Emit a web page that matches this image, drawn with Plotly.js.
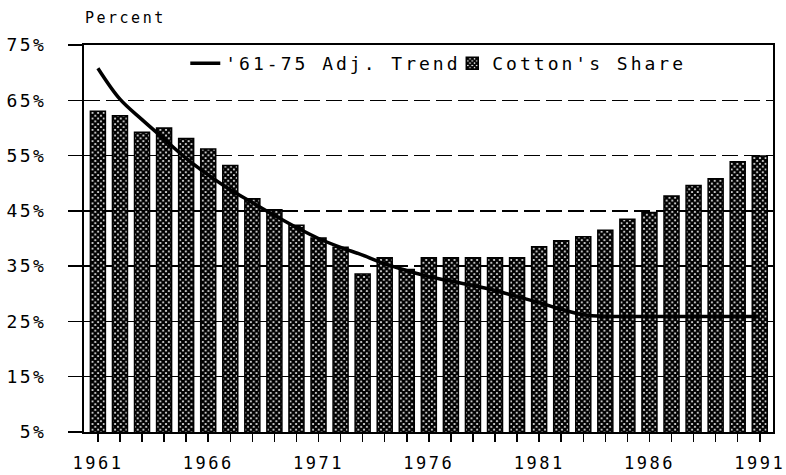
<!DOCTYPE html>
<html><head><meta charset="utf-8">
<script src="https://cdn.plot.ly/plotly-3.0.1.min.js"></script>
<style>
html,body{margin:0;padding:0;background:#fff;}
#chart{width:786px;height:475px;}
.main-svg text{letter-spacing:2.5px;}
.main-svg text.legendtext{letter-spacing:3px;}
</style></head><body><div id="chart"></div>
<script>
const years = [1961,1962,1963,1964,1965,1966,1967,1968,1969,1970,1971,1972,1973,1974,1975,1976,1977,1978,1979,1980,1981,1982,1983,1984,1985,1986,1987,1988,1989,1990,1991];
const cottonShare = [63.0,62.2,59.2,60.0,58.1,56.2,53.2,47.2,45.2,42.4,40.1,38.4,33.6,36.5,34.4,36.5,36.5,36.5,36.5,36.5,38.5,39.6,40.3,41.5,43.5,44.7,47.7,49.6,50.8,53.9,54.9];
const adjTrend = [70.8,65.2,61.5,58.0,54.5,51.5,48.8,46.5,44.2,42.0,40.0,38.4,37.0,35.4,34.2,33.1,32.3,31.5,30.6,29.5,28.4,27.2,26.2,25.9,25.9,25.9,25.9,25.9,25.9,25.9,25.9];
const yTickVals = [5,15,25,35,45,55,65,75];
const yTickText = ['5%','15%','25%','35%','45%','55%','65%','75%'];
const xTickVals = [1961,1966,1971,1976,1981,1986,1991];

const FONT = 'DejaVu Sans Mono, monospace';

const data = [
  {
    type: 'bar', name: "Cotton's Share", x: years, y: cottonShare, width: 0.68,
    marker: {color: '#fff', line: {color: '#000', width: 1.5},
      pattern: {shape: 'x', size: 4, solidity: 0.8, fgcolor: '#000', bgcolor: '#fff'}}
  },
  {
    type: 'scatter', mode: 'lines', name: "'61-75 Adj. Trend", x: years, y: adjTrend,
    line: {color: '#000', width: 3.5, shape: 'spline'}
  }
];

const layout = {
  width: 786, height: 475,
  margin: {l: 84, r: 13, t: 45, b: 43},
  paper_bgcolor: '#fff', plot_bgcolor: '#fff',
  font: {family: FONT, color: '#000', size: 18},
  title: {text: 'Percent', font: {family: FONT, size: 15, color: '#000'},
    x: 85/786, xanchor: 'left', xref: 'container', y: 1 - 18/475, yanchor: 'middle', yref: 'container'},
  showlegend: true,
  legend: {orientation: 'h', x: 0.147, y: 1.0, xanchor: 'left', yanchor: 'top',
    entrywidth: 222, entrywidthmode: 'pixels',
    traceorder: 'reversed', bgcolor: 'rgba(0,0,0,0)', font: {family: FONT, size: 18, color: '#000'}},
  xaxis: {
    range: [1960.37, 1991.6], tickvals: xTickVals, ticktext: xTickVals.map(String),
    ticks: 'outside', ticklen: 8, tickwidth: 1.5, tickcolor: '#000',
    minor: {dtick: 1, tick0: 1961, ticks: 'outside', ticklen: 8, tickwidth: 1.5, tickcolor: '#000', showgrid: false},
    showline: true, linecolor: '#000', linewidth: 2, mirror: true,
    showgrid: false, zeroline: false, ticklabelstandoff: 7,
    tickfont: {family: FONT, size: 17, color: '#000'}
  },
  yaxis: {
    range: [5, 75], tickvals: yTickVals, ticktext: yTickText,
    ticks: 'outside', ticklen: 14, tickwidth: 1.5, tickcolor: '#000',
    showline: true, linecolor: '#000', linewidth: 2, mirror: true,
    showgrid: true, gridcolor: '#000', gridwidth: 1.5, griddash: '16px,6px',
    zeroline: false, ticklabelstandoff: 18,
    tickfont: {family: FONT, size: 18, color: '#000'}
  },
  bargap: 0.3
};

Plotly.newPlot('chart', data, layout, {displayModeBar: false, staticPlot: true});
</script></body></html>
